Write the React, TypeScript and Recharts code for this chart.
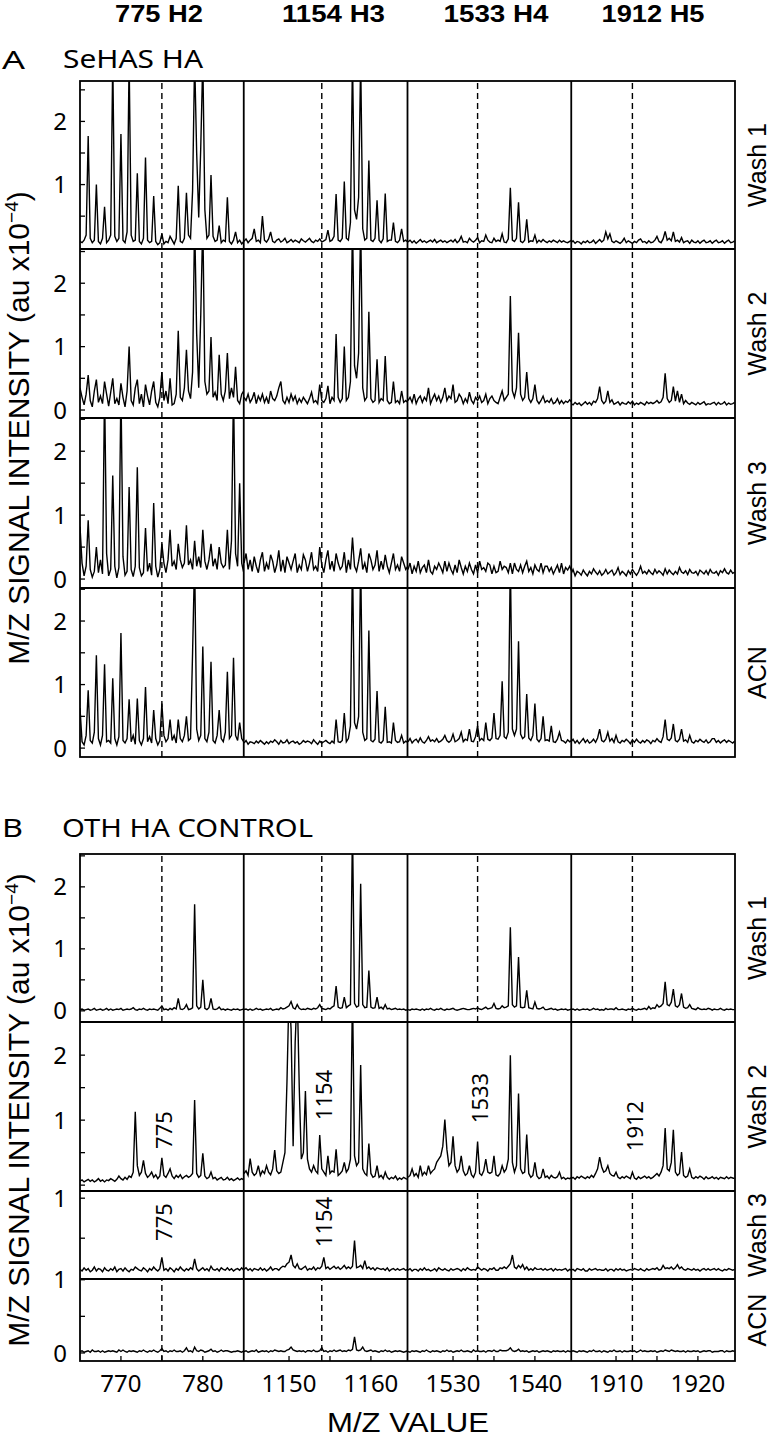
import React from 'react';
import { LineChart, Line, XAxis, YAxis, ReferenceLine } from 'recharts';

const FONT = "'Noto Sans', 'Open Sans', sans-serif";
const FONT2 = "'Liberation Sans', Arial, sans-serif";

// ---------- categories / labels ----------
const columnStarts = [765, 1144.5, 1524.5, 1904.5];
const columnSpan = 20;
const sampleStep = 0.25;
const columnHeaders = ['775 H2', '1154 H3', '1533 H4', '1912 H5'];
const markerMz = [775, 1154, 1533, 1912];
const markerLabels = ['775', '1154', '1533', '1912'];
const xTickValues = [[770, 775, 780], [1150, 1155, 1160], [1530, 1535, 1540], [1910, 1915, 1920]];
const rowNames = ['Wash 1', 'Wash 2', 'Wash 3', 'ACN'];
const panelLetters = ['A', 'B'];
const panelNames = ['SeHAS HA', 'OTH HA CONTROL'];
const yTitle = 'M/Z SIGNAL INTENSITY (au x10';
const yTitleExp = '\u22124';
const xTitle = 'M/Z VALUE';

// ---------- series (intensity x100, sampled every 0.25 m/z) ----------
const sehasW1_775 = [10,8,12,20, 177,15,8,12, 100,10,6,15, 65,8,12,20, 300,18,10,15, 180,12,8,25, 300,20,10,12, 118,10,6,15, 143,12,8,10, 82,10,5,8, 22,6,10,8, 18,12,6,15, 98,10,8,15, 87,20,15,90, 300,150,48,160, 300,60,15,20, 115,18,10,12, 35,8,12,10, 80,10,6,12, 25,8,12,6, 10];
const sehasW1_1154 = [10,14,8,12, 15,30,10,12, 8,50,12,9, 14,25,10,8, 12,14,9,11, 15,8,10,13, 9,12,10,8, 14,11,9,12, 15,10,8,12, 10,14,9,11, 13,28,10,12, 18,85,12,10, 15,105,15,12, 40,300,60,45, 80,300,30,12, 15,138,12,10, 15,75,12,8, 14,86,10,12, 12,40,10,8, 12,30,10,12, 9];
const sehasW1_1533 = [9,12,8,11, 7,10,13,9, 11,8,10,12, 9,13,8,10, 12,9,11,8, 10,12,9,13, 8,11,18,9, 10,8,15,11, 9,12,16,8, 11,10,20,12, 9,8,15,10, 12,10,22,9, 8,14,95,12, 10,15,72,10, 8,12,45,9, 11,10,20,8, 12,9,13,10, 8,11,9,12, 10,8,12,9, 11,9,8,10, 12];
const sehasW1_1912 = [8,11,7,10, 9,6,10,8, 11,8,9,12, 7,10,13,9, 12,25,14,22, 10,8,11,9, 7,10,15,8, 11,9,7,10, 8,12,14,9, 10,7,11,8, 9,12,18,10, 8,14,26,12, 15,11,25,10, 12,9,16,8, 10,11,7,12, 9,8,11,7, 10,12,8,9, 11,7,10,12, 8,9,11,7, 10,12,8,9, 11];

const sehasW2_775 = [35,20,8,25, 55,15,5,30, 48,12,22,10, 45,25,6,28, 50,10,18,8, 42,20,5,30, 100,15,8,35, 48,10,25,5, 40,22,8,30, 45,12,5,20, 60,15,30,10, 50,8,10,25, 125,20,15,35, 95,30,18,60, 300,120,35,150, 300,45,25,30, 115,20,28,15, 87,25,15,30, 90,18,35,20, 68,15,10,25, 30];
const sehasW2_1154 = [20,15,25,12, 18,28,10,22, 15,25,12,20, 10,30,18,15, 22,35,45,15, 10,20,12,25, 15,22,10,18, 12,20,15,10, 18,28,12,15, 10,40,15,12, 18,38,10,20, 15,120,20,12, 18,100,15,20, 45,300,70,50, 90,300,35,15, 20,155,18,12, 15,80,12,18, 15,85,15,10, 12,45,12,15, 10,30,12,15, 12];
const sehasW2_1533 = [15,20,12,25, 10,18,22,12, 20,15,35,10, 18,25,15,22, 12,20,35,15, 22,18,40,12, 15,25,20,10, 18,12,28,15, 10,20,15,22, 12,15,25,10, 18,22,15,12, 10,20,30,15, 20,25,180,30, 20,35,122,25, 15,20,60,18, 12,18,40,15, 10,15,22,12, 15,12,18,10, 12,18,10,15, 10,14,12,16, 12];
const sehasW2_1912 = [10,8,12,9, 11,7,10,13, 9,12,8,14, 12,18,37,15, 10,14,30,12, 16,9,11,13, 8,12,10,9, 13,10,14,8, 11,9,12,10, 8,13,10,12, 10,12,15,11, 13,20,58,18, 12,15,37,14, 30,12,25,10, 15,11,9,12, 10,8,12,9, 11,13,8,10, 9,11,12,8, 12,9,10,13, 8,11,9,10, 12];

const sehasW3_775 = [82,25,5,20, 92,15,3,12, 50,10,30,8, 300,40,5,15, 162,20,2,18, 300,35,6,12, 144,15,4,20, 175,18,5,10, 80,12,25,6, 119,20,3,15, 55,25,10,30, 77,20,28,15, 55,30,18,25, 84,22,30,15, 60,20,35,18, 77,28,15,30, 55,20,32,15, 50,25,18,22, 77,15,60,300, 40,20,150,25, 10];
const sehasW3_1154 = [25,40,15,30, 12,35,20,10, 30,42,12,25, 15,38,28,10, 22,45,12,30, 10,35,25,15, 28,40,10,22, 15,38,30,12, 25,42,15,20, 12,50,22,10, 30,45,15,28, 12,40,25,15, 20,42,10,30, 15,65,20,12, 28,48,15,25, 10,40,30,15, 22,45,12,28, 15,38,20,10, 25,40,15,22, 12,35,25,15, 20];
const sehasW3_1533 = [15,25,8,20, 12,28,10,18, 22,10,30,12, 8,20,15,25, 18,10,28,12, 25,15,8,22, 10,30,18,8, 20,12,25,15, 8,22,10,28, 15,18,12,25, 22,8,20,10, 12,28,15,20, 18,10,25,8, 25,15,12,22, 10,20,28,12, 18,8,22,15, 12,25,10,20, 20,12,18,8, 15,22,10,25, 8,18,14,20, 12];
const sehasW3_1912 = [8,15,5,12, 10,6,14,9, 5,12,8,16, 11,7,13,6, 9,15,8,11, 14,6,10,18, 7,12,9,5, 13,8,15,10, 6,11,20,9, 12,8,14,10, 7,15,9,13, 10,6,16,8, 14,10,7,12, 8,18,11,9, 13,7,15,10, 9,12,6,14, 11,8,13,7, 15,10,9,12, 6,13,10,16, 10,8,14,9, 11];

const sehasACN_775 = [63,10,5,20, 91,12,8,25, 146,15,5,20, 132,10,12,8, 110,15,5,18, 181,12,8,15, 77,10,20,6, 78,12,5,15, 96,10,18,8, 60,15,5,12, 70,20,10,15, 45,12,20,8, 45,15,10,20, 50,12,15,150, 300,30,12,20, 160,15,10,25, 136,12,8,20, 60,15,10,25, 120,15,20,142, 20,12,40,15, 10];
const sehasACN_1154 = [8,12,6,10, 9,7,11,8, 12,9,6,10, 7,11,9,13, 10,6,12,8, 9,13,7,10, 11,8,10,6, 8,12,9,11, 10,7,13,9, 6,11,8,10, 12,9,7,11, 8,45,10,9, 12,55,10,15, 35,300,40,30, 50,300,25,12, 15,185,12,10, 14,90,10,8, 12,65,9,10, 8,40,12,9, 10,20,8,11, 9];
const sehasACN_1533 = [10,15,8,12, 14,9,16,10, 8,12,18,11, 13,10,15,9, 11,14,20,12, 9,12,22,10, 12,15,25,10, 14,12,30,11, 10,18,35,12, 15,12,40,14, 12,16,55,15, 14,20,105,18, 15,25,300,30, 20,30,168,22, 15,18,85,16, 12,20,70,14, 10,15,50,12, 13,11,35,10, 9,14,25,12, 11,8,13,10, 12];
const sehasACN_1912 = [10,14,8,12, 7,11,15,9, 13,8,10,14, 9,16,30,12, 10,14,25,11, 15,9,20,10, 8,12,10,14, 11,7,13,9, 14,10,8,12, 9,13,11,7, 12,10,15,11, 9,18,45,14, 12,16,38,12, 10,14,30,11, 13,9,20,10, 8,12,10,14, 11,9,13,8, 10,15,15,9, 12,8,11,13, 9,12,10,8, 11];

const othW1_775 = [2,3,1,2, 3,1,2,4, 1,2,3,1, 2,4,1,3, 1,2,3,2, 4,1,2,3, 2,3,5,2, 1,3,2,4, 2,1,3,2, 3,2,1,4, 8,2,3,1, 4,2,5,3, 20,3,2,4, 10,2,3,5, 172,8,3,6, 50,4,2,5, 20,3,2,3, 6,2,3,1, 3,2,1,3, 2,3,1,2, 3];
const othW1_1154 = [2,3,1,3, 1,2,4,2, 3,1,2,3, 2,4,1,2, 3,2,5,3, 4,6,8,15, 5,3,10,4, 2,3,2,4, 3,2,4,3, 5,10,4,3, 2,4,3,6, 8,40,6,4, 5,22,5,8, 10,300,12,6, 8,205,10,5, 6,65,6,4, 5,22,4,6, 3,10,3,4, 2,3,4,2, 3,2,3,1, 2];
const othW1_1533 = [2,1,3,2, 3,2,1,3, 1,3,2,4, 2,1,3,2, 4,2,1,3, 2,3,4,2, 1,2,3,4, 3,2,2,3, 4,3,5,3, 2,4,6,3, 4,5,12,4, 3,4,8,5, 6,8,135,10, 6,8,87,6, 5,6,33,5, 4,3,14,4, 3,4,6,2, 2,3,4,2, 3,1,2,3, 2,3,1,2, 3];
const othW1_1912 = [2,3,1,3, 1,2,3,2, 3,1,2,4, 2,3,1,2, 1,4,2,3, 3,2,5,2, 2,3,2,1, 3,2,4,2, 1,3,2,3, 4,2,7,3, 5,4,10,6, 8,12,47,10, 8,14,35,8, 6,10,28,6, 4,5,10,4, 3,2,5,3, 2,3,2,4, 3,1,3,2, 2,4,2,1, 3,2,3,2, 2];

const othW2_775 = [6,8,5,7, 9,6,8,5, 7,10,6,8, 5,8,7,10, 8,6,9,14, 10,8,12,9, 14,12,20,113, 30,15,20,38, 18,12,15,20, 12,16,10,14, 42,15,12,18, 25,14,10,15, 12,16,10,13, 15,12,14,18, 131,18,12,15, 49,14,10,12, 20,10,12,8, 10,12,8,9, 12,8,10,7, 9,11,8,10, 8];
const othW2_1154 = [18,22,15,41, 20,15,18,30, 15,22,18,30, 20,16,25,54, 22,18,20,35, 50,160,300,240, 60,220,300,150, 40,50,145,40, 25,20,30,22, 18,77,25,20, 15,45,18,22, 20,55,15,18, 22,35,20,25, 40,300,45,30, 35,185,25,18, 15,64,18,12, 14,30,12,15, 10,20,12,9, 12,10,14,8, 11,9,12,10, 9];
const othW2_1533 = [12,15,25,14, 18,12,30,15, 20,16,30,18, 22,25,35,40, 45,60,101,55, 30,35,75,30, 20,25,45,22, 15,18,30,16, 12,20,67,18, 15,22,40,20, 18,20,45,16, 14,18,30,20, 25,40,200,35, 20,30,141,25, 18,20,78,18, 12,15,35,14, 10,12,25,12, 14,10,15,12, 11,13,20,10, 12,9,11,10, 12];
const othW2_1912 = [10,12,9,13, 11,14,12,10, 13,11,15,12, 18,25,43,28, 20,22,30,18, 15,14,20,12, 10,13,11,14, 12,10,20,11, 9,13,10,12, 14,11,13,10, 12,15,18,14, 20,30,88,25, 22,35,85,20, 15,18,51,15, 12,14,25,12, 10,13,11,14, 12,9,13,10, 11,13,10,12, 9,12,11,10, 13,10,12,11, 10];

const othW3_775 = [11,9,13,10, 12,8,10,14, 9,12,11,8, 13,10,9,12, 10,14,8,11, 12,9,13,10, 8,11,10,14, 12,10,9,13, 11,8,12,10, 14,11,9,12, 26,10,12,9, 13,11,8,12, 10,14,11,9, 12,10,13,11, 24,12,9,11, 13,10,12,9, 15,11,10,12, 9,13,11,10, 13,10,12,9, 11,12,10,13, 10];
const othW3_1154 = [11,13,10,12, 9,12,11,10, 13,10,12,9, 11,14,10,12, 12,10,13,15, 14,18,20,29, 16,13,18,12, 11,13,15,10, 12,11,14,10, 13,12,15,26, 12,14,11,13, 15,12,14,11, 13,16,12,14, 12,15,47,13, 14,16,12,22, 12,14,11,13, 10,13,12,11, 12,10,13,9, 11,12,10,12, 10,11,12,10, 11];
const othW3_1533 = [10,12,9,11, 11,9,12,10, 13,10,11,9, 10,12,9,13, 11,10,12,10, 9,12,10,11, 12,11,9,12, 10,13,11,10, 11,10,14,12, 10,12,11,9, 12,11,13,10, 10,13,12,14, 12,15,18,29, 14,12,16,13, 17,11,14,10, 12,10,13,11, 11,12,10,12, 10,11,12,9, 12,10,11,10, 11,12,9,11, 10];
const othW3_1912 = [10,11,9,12, 11,10,12,9, 9,12,10,11, 12,10,11,10, 10,12,9,11, 11,9,12,10, 12,10,11,9, 10,11,10,12, 11,10,12,10, 9,12,10,11, 12,11,13,10, 11,16,12,13, 12,14,11,13, 17,12,14,11, 10,12,11,10, 12,10,11,9, 11,12,10,12, 10,11,12,10, 12,10,9,11, 10,12,11,10, 11];

const othACN_775 = [2,3,1,2, 3,1,4,2, 2,3,1,3, 1,2,3,2, 3,2,1,4, 2,4,2,1, 3,2,3,2, 1,3,2,4, 2,1,3,2, 4,2,1,3, 6,2,3,1, 3,2,4,2, 2,3,1,3, 7,2,3,1, 8,3,2,4, 3,1,2,3, 5,2,3,1, 2,4,2,3, 3,2,1,2, 2,3,2,1, 3];
const othACN_1154 = [2,3,1,2, 3,2,4,1, 2,3,2,3, 1,3,2,4, 3,2,3,2, 2,4,5,8, 4,3,2,3, 2,3,1,3, 3,2,4,2, 2,3,7,2, 3,1,3,2, 4,2,3,4, 2,3,2,4, 3,5,22,4, 3,4,8,3, 2,3,4,2, 3,2,1,3, 2,4,2,3, 1,2,3,2, 3,2,1,2, 3];
const othACN_1533 = [2,1,3,2, 3,2,1,3, 2,4,2,1, 3,2,3,2, 1,3,2,4, 2,3,1,2, 3,2,4,2, 2,3,2,1, 4,2,3,2, 2,3,1,3, 3,2,4,2, 2,4,3,3, 3,4,7,3, 2,3,5,2, 3,2,3,1, 2,3,2,3, 1,2,3,2, 3,2,1,3, 2,3,2,2, 3,1,3,2, 2];
const othACN_1912 = [2,3,2,1, 3,2,3,2, 1,3,2,4, 2,2,3,1, 3,2,1,3, 2,4,2,2, 3,1,3,2, 2,3,2,3, 1,2,4,2, 3,2,2,3, 2,3,1,2, 3,2,4,3, 2,4,3,2, 3,2,2,3, 1,3,2,2, 3,2,3,1, 2,3,2,3, 3,1,2,2, 2,3,3,1, 3,2,2,3, 2];

const sehasSeries = [
  [sehasW1_775, sehasW1_1154, sehasW1_1533, sehasW1_1912],
  [sehasW2_775, sehasW2_1154, sehasW2_1533, sehasW2_1912],
  [sehasW3_775, sehasW3_1154, sehasW3_1533, sehasW3_1912],
  [sehasACN_775, sehasACN_1154, sehasACN_1533, sehasACN_1912],
];
const othSeries = [
  [othW1_775, othW1_1154, othW1_1533, othW1_1912],
  [othW2_775, othW2_1154, othW2_1533, othW2_1912],
  [othW3_775, othW3_1154, othW3_1533, othW3_1912],
  [othACN_775, othACN_1154, othACN_1533, othACN_1912],
];

// ---------- axis settings ----------
const domainsA = [[-0.02, 2.64], [-0.126, 2.54], [-0.14, 2.52], [-0.14, 2.52]];
const domainsB = [[-0.18, 2.53], [-0.09, 2.51], [-0.01, 1.09], [-0.11, 1.01]];
const yTicksA = [[0.5, 1, 1.5, 2, 2.5], [0, 0.5, 1, 1.5, 2, 2.5], [0, 0.5, 1, 1.5, 2, 2.5], [0, 0.5, 1, 1.5, 2, 2.5]];
const yTicksB = [[0, 0.5, 1, 1.5, 2, 2.5], [0, 0.5, 1, 1.5, 2], [0.5, 1], [0, 0.5, 1]];
const yLabelsA = [[1, 2], [0, 1, 2], [0, 1, 2], [0, 1, 2]];
const yLabelsB = [[0, 1, 2], [1, 2], [1], [0, 1]];
const markersA = [['d', 'd', 'd', 'd'], ['d', 'd', 'd', 'd'], ['d', 'd', 'd', 'd'], ['d', 'd', 'd', 'd']];
const markersB = [['d', 'd', 'd', 'd'], ['l', 'l', 'l', 'l'], ['l', 'l', 'd', 'd'], ['d', 'd', 'd', 'd']];
const markerLabelOffsetB = [[0, 0, 0, 0], [108, 73, 76, 104], [31, 31, 0, 0], [0, 0, 0, 0]];

// ---------- layout ----------
const W = 772;
const H = 1439;
const COL_X = [80, 243.75, 407.5, 571.25, 735];
const ROWS_A = [81, 249, 418, 588, 757];
const ROWS_B = [854, 1022, 1191, 1279, 1361];
const TOP_PAD = 20;

function XTick(props: any) {
  const { x, y, payload, showLabel } = props;
  const v = payload.value;
  return (
    <g>
      <line x1={x} x2={x} y1={y} y2={y - 5} stroke="#000" strokeWidth={1.3} />
      {showLabel && v % 10 === 0 ? (
        <text x={x} y={y + 31} textAnchor="middle" fontSize={24} fontFamily={FONT} fill="#000">{v}</text>
      ) : null}
    </g>
  );
}

function YTick(props: any) {
  const { x, y, payload, labels } = props;
  const v = payload.value;
  return (
    <g>
      <line x1={x} x2={x + 5} y1={y} y2={y} stroke="#000" strokeWidth={1.3} />
      {labels.indexOf(v) >= 0 ? (
        <text x={x - 13} y={y} dy="0.36em" textAnchor="end" fontSize={24} fontFamily={FONT} fill="#000">{v}</text>
      ) : null}
    </g>
  );
}

function MarkLabel(props: any) {
  const { viewBox, text, yOff } = props;
  if (!viewBox) return null;
  const cx = viewBox.x + 1.5;
  const cy = viewBox.y + yOff;
  return (
    <text transform={`translate(${cx},${cy}) rotate(-90)`} textAnchor="middle" dominantBaseline="central" fontSize={22} fontFamily={FONT} fill="#000">{text}</text>
  );
}

function Panel(props: any) {
  const { values, col, top, height, domain, yTicks, yLabels, isBottom, marker, labelOffset } = props;
  const start = columnStarts[col];
  const data = values.map((v: number, i: number) => ({ mz: start + i * sampleStep, y: v / 100 }));
  const L = col === 0 ? 80 : 0;
  const T = TOP_PAD;
  const B = isBottom ? 50 : 16;
  const w = COL_X[col + 1] - COL_X[col];
  return (
    <div style={{ position: 'absolute', left: COL_X[col] - L, top: top - T }}>
      <LineChart width={L + w} height={T + height + B} data={data} margin={{ top: T, right: 0, left: 0, bottom: isBottom ? 0 : B }}>
        <XAxis type="number" dataKey="mz" domain={[start, start + columnSpan]} allowDataOverflow ticks={xTickValues[col]} interval={0}
          height={isBottom ? B : 0} tickLine={false} axisLine={false} tickSize={0} tickMargin={0}
          tick={(p: any) => <XTick {...p} showLabel={isBottom} />} />
        <YAxis type="number" domain={domain} allowDataOverflow hide={col !== 0} width={L} ticks={yTicks} interval={0}
          tickLine={false} axisLine={false} tickSize={0} tickMargin={0}
          tick={(p: any) => <YTick {...p} labels={yLabels} />} />
        {marker === 'd' ? (
          <ReferenceLine x={markerMz[col]} stroke="#000" strokeWidth={1.4} strokeDasharray="6 4" />
        ) : null}
        {marker === 'l' ? (
          <ReferenceLine x={markerMz[col]} stroke="none" label={<MarkLabel text={markerLabels[col]} yOff={labelOffset} />} />
        ) : null}
        <Line type="linear" dataKey="y" stroke="#000" strokeWidth={1.4} dot={false} isAnimationActive={false} />
      </LineChart>
    </div>
  );
}

export default function App() {
  const groups = [
    { rows: ROWS_A, series: sehasSeries, domains: domainsA, yTicks: yTicksA, yLabels: yLabelsA, markers: markersA, offsets: [[0,0,0,0],[0,0,0,0],[0,0,0,0],[0,0,0,0]], last: false },
    { rows: ROWS_B, series: othSeries, domains: domainsB, yTicks: yTicksB, yLabels: yLabelsB, markers: markersB, offsets: markerLabelOffsetB, last: true },
  ];
  const panels: any[] = [];
  groups.forEach((g, gi) => {
    for (let r = 0; r < 4; r++) {
      for (let c = 0; c < 4; c++) {
        panels.push(
          <Panel key={`${gi}-${r}-${c}`} values={g.series[r][c]} col={c} top={g.rows[r]} height={g.rows[r + 1] - g.rows[r]}
            domain={g.domains[r]} yTicks={g.yTicks[r]} yLabels={g.yLabels[r]} isBottom={g.last && r === 3}
            marker={g.markers[r][c]} labelOffset={g.offsets[r][c]} />
        );
      }
    }
  });

  const headerCenters = [159, 333.5, 496, 653];
  const headerLengths = [88, 103, 105, 103];
  const frameStroke = 1.8;

  return (
    <div style={{ position: 'absolute', left: 0, top: 0, width: W, height: H, background: '#fff', overflow: 'hidden', fontFamily: FONT }}>
      {panels}
      <svg width={W} height={H} style={{ position: 'absolute', left: 0, top: 0, pointerEvents: 'none' }}>
        {[ROWS_A, ROWS_B].map((rows, gi) => (
          <g key={gi} stroke="#000" strokeWidth={frameStroke} fill="none">
            <rect x={COL_X[0]} y={rows[0]} width={COL_X[4] - COL_X[0]} height={rows[4] - rows[0]} />
            {[1, 2, 3].map((i) => (
              <line key={'v' + i} x1={COL_X[i]} x2={COL_X[i]} y1={rows[0]} y2={rows[4]} />
            ))}
            {[1, 2, 3].map((i) => (
              <line key={'h' + i} x1={COL_X[0]} x2={COL_X[4]} y1={rows[i]} y2={rows[i]} />
            ))}
          </g>
        ))}
        {columnHeaders.map((t, i) => (
          <text key={t} x={headerCenters[i]} y={22} textAnchor="middle" fontSize={23.5} fontWeight={700} fontFamily={FONT2}
            textLength={headerLengths[i]} lengthAdjust="spacingAndGlyphs">{t}</text>
        ))}
        <text x={2} y={69} fontSize={26} fontFamily={FONT} textLength={23} lengthAdjust="spacingAndGlyphs">{panelLetters[0]}</text>
        <text x={63} y={68} fontSize={25.5} fontFamily={FONT} textLength={140} lengthAdjust="spacingAndGlyphs">{panelNames[0]}</text>
        <text x={2} y={837} fontSize={26} fontFamily={FONT} textLength={21} lengthAdjust="spacingAndGlyphs">{panelLetters[1]}</text>
        <text x={62} y={837} fontSize={25.5} fontFamily={FONT} textLength={251} lengthAdjust="spacingAndGlyphs">{panelNames[1]}</text>
        {[428, 1110].map((cy, i) => (
          <text key={'yt' + i} transform={`translate(28.5,${cy}) rotate(-90)`} textAnchor="middle" fontSize={30} fontFamily={FONT2}>
            {yTitle}
            <tspan dy={-11} fontSize={19}>{yTitleExp}</tspan>
            <tspan dy={11}>)</tspan>
          </text>
        ))}
        {[ROWS_A, ROWS_B].map((rows, gi) =>
          rowNames.map((n, r) => (
            <text key={`rn${gi}-${r}`} transform={`translate(766,${(rows[r] + rows[r + 1]) / 2}) rotate(-90)`} textAnchor="middle"
              fontSize={25} fontFamily={FONT2}>{n}</text>
          ))
        )}
        <text x={408} y={1432} textAnchor="middle" fontSize={28} fontFamily={FONT2} textLength={162} lengthAdjust="spacingAndGlyphs">{xTitle}</text>
      </svg>
    </div>
  );
}
